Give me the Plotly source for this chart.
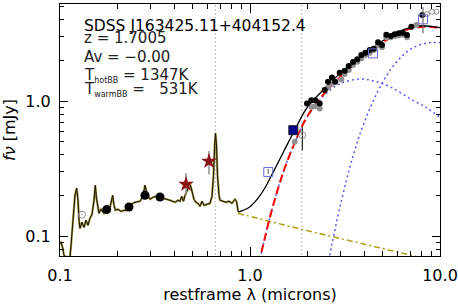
import plotly.graph_objects as go

# ---------------- data ----------------
spec_wave = [0.0994, 0.1012, 0.1031, 0.1050, 0.1075, 0.1129, 0.1143, 0.1171, 0.1199, 0.1224,
             0.1244, 0.1259, 0.1274, 0.1306, 0.1338, 0.1370, 0.1404, 0.1438, 0.1474, 0.1510,
             0.1534, 0.1556, 0.1575, 0.1604, 0.1643, 0.1704, 0.1746, 0.1789, 0.1833, 0.1866,
             0.1894, 0.1924, 0.1959, 0.2019, 0.2094, 0.2172, 0.2252, 0.2364, 0.2481, 0.2637,
             0.2734, 0.2801, 0.2870, 0.2976, 0.3086, 0.3201, 0.3360, 0.3570, 0.3793, 0.4030,
             0.4179, 0.4281, 0.4370, 0.4467, 0.4549, 0.4660, 0.4775, 0.4862, 0.4952, 0.5073,
             0.5197, 0.5325, 0.5455, 0.5589, 0.5726, 0.5938, 0.6158, 0.6310, 0.6425, 0.6519,
             0.6583, 0.6663, 0.6744, 0.6868, 0.6952, 0.7209, 0.7476, 0.7752, 0.8039, 0.8337,
             0.8489, 0.8677]
spec_flux = [0.0883, 0.0898, 0.0824, 0.0719, 0.0700, 0.0700, 0.0853, 0.1425, 0.2005, 0.2260,
             0.1841, 0.1308, 0.1141, 0.1264, 0.1160, 0.1308, 0.1201, 0.1353, 0.1449, 0.1841,
             0.2379, 0.1905, 0.1690, 0.1474, 0.1578, 0.1474, 0.1552, 0.1525, 0.1633, 0.1841,
             0.2005, 0.1690, 0.1552, 0.1578, 0.1525, 0.1552, 0.1552, 0.1719, 0.1779, 0.1810,
             0.1971, 0.2379, 0.2039, 0.1873, 0.1938, 0.1971, 0.1938, 0.1905, 0.1841, 0.1779,
             0.1841, 0.1810, 0.1971, 0.1810, 0.2005, 0.2147, 0.2420, 0.2379, 0.2147, 0.1873,
             0.1779, 0.1749, 0.1661, 0.1810, 0.1690, 0.1719, 0.1749, 0.1971, 0.2822, 0.4713,
             0.5785, 0.4713, 0.2822, 0.2005, 0.1841, 0.1810, 0.1779, 0.1810, 0.1749, 0.1873,
             0.1810, 0.1507]

total_wave = [0.8677, 0.92, 1.0, 1.1, 1.2, 1.3, 1.5, 1.75, 2.0, 2.5, 3.0, 3.5, 4.0, 5.0, 6.0, 7.0, 8.0, 9.0, 10.0]
total_flux = [0.1507, 0.155, 0.165, 0.19, 0.228, 0.283, 0.42, 0.64, 0.90, 1.26, 1.62, 1.93, 2.24, 2.80, 3.25, 3.52, 3.62, 3.58, 3.50]

bbsum_wave = [1.12, 1.15, 1.2, 1.3, 1.5, 1.75, 2.0, 2.5, 3.0, 3.5, 4.0, 5.0, 6.0, 7.0, 8.0, 9.0, 10.0]
bbsum_flux = [0.062, 0.076, 0.098, 0.154, 0.30, 0.52, 0.77, 1.17, 1.52, 1.84, 2.15, 2.72, 3.17, 3.45, 3.55, 3.55, 3.48]

hot_wave = [1.12, 1.15, 1.2, 1.3, 1.5, 1.75, 2.0, 2.5, 3.0, 3.8, 4.5, 5.5, 7.0, 8.5, 10.0]
hot_flux = [0.062, 0.076, 0.098, 0.154, 0.30, 0.52, 0.76, 1.13, 1.35, 1.46, 1.41, 1.27, 1.04, 0.89, 0.76]

warm_wave = [2.6, 2.7, 3.0, 3.5, 4.0, 5.0, 6.0, 7.0, 8.0, 9.0, 10.0]
warm_flux = [0.066, 0.087, 0.173, 0.40, 0.70, 1.39, 2.0, 2.43, 2.64, 2.72, 2.72]

disk_wave = [0.865, 1.875, 8.0]
disk_flux = [0.147, 0.112, 0.069]

line_wave = [0.6563, 1.875]

phot_wave = [0.1761, 0.2307, 0.2801, 0.3360]
phot_flux = [0.157, 0.1642, 0.2005, 0.1948]

star_wave = [0.4604, 0.6083]
star_flux = [0.242, 0.3585]
star_hi = [0.2936, 0.4276]
star_lo = [0.2005, 0.287]

opensq_wave = [1.248, 4.44, 8.14]
opensq_flux = [0.2986, 2.26, 4.04]
opensq_hi = [0.315, 2.26, 4.96]
opensq_lo = [0.290, 2.26, 3.18]

navy_wave = [1.69]
navy_flux = [0.609]

cdot_wave = [0.1306, 1.885]
cdot_flux = [0.144, 0.559]
cdot_hi = [0.144, 0.645]
cdot_lo = [0.144, 0.4327]

irs_wave = [1.995, 2.102, 2.207, 2.327, 2.473, 2.573, 2.701, 2.811, 2.966, 3.150, 3.307, 3.485,
            3.670, 3.853, 4.045, 4.266, 4.478, 4.717, 4.952, 5.217, 5.502, 5.776, 6.062, 6.389,
            6.706, 7.065, 8.07]
irs_flux = [0.961, 1.017, 1.017, 0.961, 1.207, 1.391, 1.500, 1.391, 1.622, 1.679, 1.819, 1.948,
            2.040, 2.195, 2.284, 2.391, 2.445, 2.728, 2.604, 3.106, 3.038, 3.128, 3.182, 3.215,
            3.090, 3.561, 4.35]

gray_wave = [1.72, 2.102, 2.207, 2.327, 2.573, 2.701, 3.026, 3.150, 3.307, 3.485, 3.670, 3.853,
             4.045, 4.266, 4.478, 4.717, 4.952, 5.217, 5.502, 5.776, 6.062, 6.389, 6.706, 7.504]
gray_flux = [0.499, 0.907, 0.918, 0.883, 1.264, 1.353, 1.449, 1.586, 1.699, 1.851, 1.958, 2.075,
             2.195, 2.284, 2.391, 2.604, 2.504, 2.971, 2.971, 3.038, 3.074, 3.106, 2.971, 3.666]

grayopen_wave = [8.55, 9.1, 9.57]
grayopen_flux = [4.42, 4.6, 4.6]

x_tickvals = [0.1, 1.0, 10.0]
x_ticktext = ["0.1", "1.0", "10.0"]
y_tickvals = [0.1, 1.0]
y_ticktext = ["0.1", "1.0"]
x_minor = [0.2, 0.3, 0.4, 0.5, 0.6, 0.7, 0.8, 0.9, 2, 3, 4, 5, 6, 7, 8, 9]
y_minor = [0.08, 0.09, 0.2, 0.3, 0.4, 0.5, 0.6, 0.7, 0.8, 0.9, 2, 3, 4, 5]

title_text = "SDSS J163425.11+404152.4"
SUB = "<sub><span style='font-size:8px'>{}</span></sub>"
info_lines = ["z = 1.7005", "Av = \u22120.00",
              "T" + SUB.format("hotBB") + " = 1347K",
              "T" + SUB.format("warmBB") + " = \u2007531K"]

FONT = "DejaVu Sans, Verdana, sans-serif"

fig = go.Figure()

# vertical dotted reference lines
for lw in line_wave:
    fig.add_trace(go.Scatter(x=[lw, lw], y=[0.01, 100], mode="lines",
                             line=dict(color="#b4b4b4", width=1, dash="2px,2px"),
                             hoverinfo="skip"))

# disk power law
fig.add_trace(go.Scatter(x=disk_wave, y=disk_flux, mode="lines",
                         line=dict(color="#b09a10", width=1.5, dash="6px,3px,2px,3px")))
# blackbodies
fig.add_trace(go.Scatter(x=hot_wave, y=hot_flux, mode="lines", line_shape="spline",
                         line=dict(color="#5a5aee", width=1.5, dash="2px,3px")))
fig.add_trace(go.Scatter(x=warm_wave, y=warm_flux, mode="lines", line_shape="spline",
                         line=dict(color="#5a5aee", width=1.5, dash="2px,3px")))
fig.add_trace(go.Scatter(x=bbsum_wave, y=bbsum_flux, mode="lines", line_shape="spline",
                         line=dict(color="#ff0000", width=2, dash="8px,4px")))
# spectrum
fig.add_trace(go.Scatter(x=spec_wave, y=spec_flux, mode="lines",
                         line=dict(color="#a89a40", width=2.2)))
fig.add_trace(go.Scatter(x=spec_wave, y=spec_flux, mode="lines",
                         line=dict(color="#101008", width=1)))
# total model
fig.add_trace(go.Scatter(x=total_wave, y=total_flux, mode="lines", line_shape="spline",
                         line=dict(color="black", width=1.3)))

# data points
fig.add_trace(go.Scatter(x=gray_wave, y=gray_flux, mode="markers",
                         marker=dict(symbol="circle", size=6, color="#909090")))
fig.add_trace(go.Scatter(x=irs_wave, y=irs_flux, mode="markers",
                         marker=dict(symbol="circle", size=6, color="black")))
fig.add_trace(go.Scatter(x=phot_wave, y=phot_flux, mode="markers",
                         marker=dict(symbol="circle", size=9, color="black")))
fig.add_trace(go.Scatter(x=cdot_wave, y=cdot_flux, mode="markers",
                         error_y=dict(type="data", symmetric=False,
                                      array=[h - f for h, f in zip(cdot_hi, cdot_flux)],
                                      arrayminus=[f - l for f, l in zip(cdot_flux, cdot_lo)],
                                      color="black", thickness=1, width=0),
                         marker=dict(symbol="circle-open-dot", size=7, color="#909090",
                                     line=dict(width=1))))
fig.add_trace(go.Scatter(x=grayopen_wave, y=grayopen_flux, mode="markers",
                         marker=dict(symbol="circle-open", size=5, color="#909090",
                                     line=dict(width=1))))
fig.add_trace(go.Scatter(x=star_wave, y=star_flux, mode="markers",
                         error_y=dict(type="data", symmetric=False,
                                      array=[h - f for h, f in zip(star_hi, star_flux)],
                                      arrayminus=[f - l for f, l in zip(star_flux, star_lo)],
                                      color="#909090", thickness=1.5, width=0),
                         marker=dict(symbol="star", size=12, color="#8b1414")))
fig.add_trace(go.Scatter(x=opensq_wave, y=opensq_flux, mode="markers",
                         error_y=dict(type="data", symmetric=False,
                                      array=[h - f for h, f in zip(opensq_hi, opensq_flux)],
                                      arrayminus=[f - l for f, l in zip(opensq_flux, opensq_lo)],
                                      color="#707070", thickness=1.2, width=0),
                         marker=dict(symbol="square-open", size=9, color="#6a6ad4",
                                     line=dict(width=1))))
fig.add_trace(go.Scatter(x=navy_wave, y=navy_flux, mode="markers",
                         marker=dict(symbol="square", size=9, color="#00008b",
                                     line=dict(color="black", width=0.8))))

axis_common = dict(type="log", showline=True, linecolor="black", linewidth=1,
                   mirror="allticks", ticks="inside", tickcolor="black", tickwidth=1,
                   showgrid=False, zeroline=False, automargin=False,
                   tickfont=dict(family=FONT, size=16, color="black"))

fig.update_xaxes(range=[-1, 1], tickvals=x_tickvals, ticktext=x_ticktext, ticklen=9,
                 ticklabelstandoff=5,
                 minor=dict(tickvals=x_minor, ticks="inside", ticklen=5, tickcolor="black",
                            showgrid=False),
                 title=dict(text="restframe \u03bb (microns)", standoff=4,
                            font=dict(family=FONT, size=16, color="black")),
                 **axis_common)
fig.update_yaxes(range=[-1.148, 0.72], tickvals=y_tickvals, ticktext=y_ticktext, ticklen=8,
                 ticklabelstandoff=5,
                 minor=dict(tickvals=y_minor, ticks="inside", ticklen=4, tickcolor="black",
                            showgrid=False),
                 title=dict(text="<i>f\u03bd</i> [mJy]", standoff=5,
                            font=dict(family=FONT, size=16, color="black")),
                 **axis_common)

annotations = [dict(text=title_text, xref="paper", yref="paper", x=0.0579, y=0.913,
                    xanchor="left", yanchor="middle", showarrow=False,
                    font=dict(family=FONT, size=15.5, color="black"))]
info_y = [0.864, 0.790, 0.717, 0.659]
for t, yy in zip(info_lines, info_y):
    annotations.append(dict(text=t, xref="paper", yref="paper", x=0.0579, y=yy,
                            xanchor="left", yanchor="middle", showarrow=False,
                            font=dict(family=FONT, size=15, color="#222222")))

fig.update_layout(width=458, height=305, margin=dict(l=60, r=18, t=4, b=49),
                  plot_bgcolor="white", paper_bgcolor="white", showlegend=False,
                  annotations=annotations, font=dict(family=FONT))

fig.write_html("out.html", config={"displayModeBar": False},
               post_script="document.body.style.margin='0';document.body.style.padding='0';")
